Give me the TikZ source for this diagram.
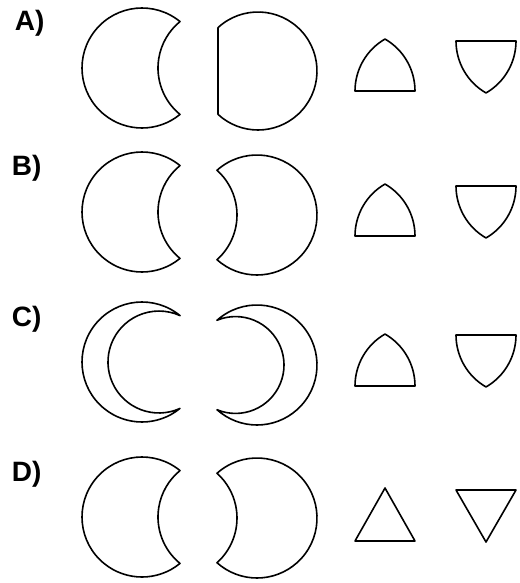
\documentclass[tikz,border=0pt]{standalone}
\usepackage{fontspec}
\setmainfont{Liberation Sans}
\tikzset{
  lbl/.style={anchor=base west, inner sep=0pt, font=\bfseries\fontsize{28}{28}\selectfont},
  lcres/.pic={\draw (50.70:60) arc[start angle=50.70,end angle=309.30,radius=60] arc[start angle=230.70,end angle=129.30,radius=60] -- cycle;},
  rcres/.pic={\draw (131.81:60) arc[start angle=131.81,end angle=-131.81,radius=60] arc[start angle=-48.19,end angle=48.19,radius=60] -- cycle;},
  dshape/.pic={\draw (132.69:59) arc[start angle=132.69,end angle=-132.69,radius=59] -- cycle;},
  lring/.pic={\draw (50.70:60) arc[start angle=50.70,end angle=309.30,radius=60] arc[start angle=294.38,end angle=65.62,radius=50.97] -- cycle;},
  rring/.pic={\draw (131.81:60) arc[start angle=131.81,end angle=-131.81,radius=60] arc[start angle=-112.55,end angle=112.55,radius=48.43] -- cycle;},
  arch/.pic={\draw (0,0) -- (60,0) arc[start angle=0,end angle=60,radius=60] arc[start angle=120,end angle=180,radius=60] -- cycle;},
  shield/.pic={\draw (0,0) -- (60,0) arc[start angle=0,end angle=-60,radius=60] arc[start angle=-120,end angle=-180,radius=60] -- cycle;}
}
\begin{document}
\begin{tikzpicture}[x=1pt,y=1pt,line width=1.6pt,line join=round]
\useasboundingbox (0,0) rectangle (519,-583);
% labels
\node[lbl] (la) at (14,-31) {A)};
\node[lbl] (lb) at (11,-175) {B)};
\node[lbl] (lc) at (11,-326) {C)};
\node[lbl] (ld) at (11,-481) {D)};
% row A
\pic at (142,-68) {lcres};
\pic at (258,-71) {dshape};
\pic at (355,-91) {arch};
\pic at (456,-41) {shield};
% row B
\pic at (142,-212) {lcres};
\pic at (257,-215) {rcres};
\pic at (355,-236) {arch};
\pic at (456,-186) {shield};
% row C
\pic at (142,-362) {lring};
\pic at (257,-365) {rring};
\pic at (355,-386) {arch};
\pic at (456,-335) {shield};
% row D
\pic at (142,-517) {lcres};
\pic at (257,-518) {rcres};
\draw (355,-541) -- (415,-541) -- (385,-488) -- cycle;
\draw (456,-490) -- (516,-490) -- (486,-542) -- cycle;
\end{tikzpicture}
\end{document}
